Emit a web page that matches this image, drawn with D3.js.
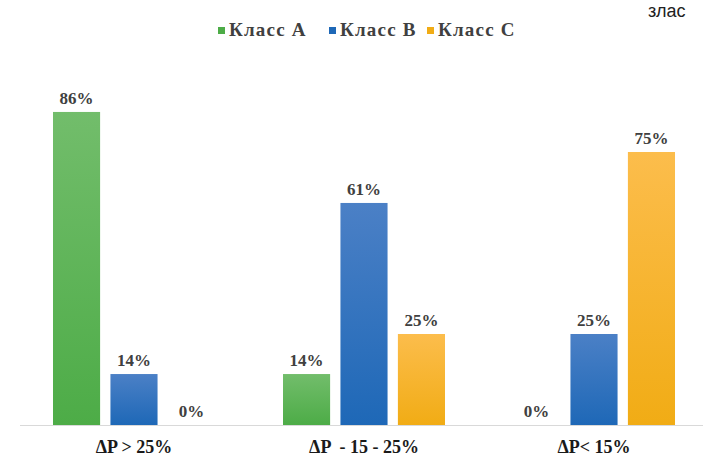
<!DOCTYPE html>
<html>
<head>
<meta charset="utf-8">
<script src="https://cdn.jsdelivr.net/npm/d3@7"></script>
<style>
  body { margin: 0; background: #fff; }
  svg { display: block; }
</style>
</head>
<body>
<div id="chart"></div>
<script>
// data
var categories = ["ΔP > 25%", "ΔP  - 15 - 25%", "ΔP< 15%"];
var seriesNames = ["Класс A", "Класс B", "Класс C"];
var classA = [86, 14, 0];
var classB = [14, 61, 25];
var classC = [0, 25, 75];

var W = 703, H = 457;
var base = 425;
var SERIF = "'Liberation Serif', 'Times New Roman', serif";

var svg = d3.select("#chart").append("svg")
  .attr("width", W).attr("height", H);

// gradients: lighter at the top, like the original
var colors = {
  "Класс A": ["#72bd6b", "#4dac47"],
  "Класс B": ["#4b80c6", "#1e68b7"],
  "Класс C": ["#fcbd4c", "#f1ac15"]
};
var defs = svg.append("defs");
seriesNames.forEach(function(s, i) {
  var g = defs.append("linearGradient").attr("id", "grad" + i)
    .attr("x1", 0).attr("y1", 0).attr("x2", 0).attr("y2", 1);
  g.append("stop").attr("offset", "0%").attr("stop-color", colors[s][0]);
  g.append("stop").attr("offset", "100%").attr("stop-color", colors[s][1]);
});

var x = d3.scaleBand()
  .domain(categories)
  .range([19, 709])
  .paddingInner(0.2957)
  .paddingOuter(0.1478);

var xs = d3.scaleBand()
  .domain(seriesNames)
  .range([0, x.bandwidth()])
  .paddingInner(0.18);

var y = d3.scaleLinear()
  .domain([0, 100])
  .range([base, base - 364]);

var rows = categories.map(function(c, i) {
  return { cat: c, values: [classA[i], classB[i], classC[i]] };
});

// axis line
svg.append("line")
  .attr("x1", 20).attr("x2", W)
  .attr("y1", base + 0.5).attr("y2", base + 0.5)
  .attr("stroke", "#d9d9d9").attr("stroke-width", 1);

var groups = svg.selectAll("g.grp")
  .data(rows)
  .enter().append("g")
  .attr("class", "grp")
  .attr("transform", function(d) { return "translate(" + x(d.cat) + ",0)"; });

groups.selectAll("rect")
  .data(function(d) { return d.values.map(function(v, i) { return { s: seriesNames[i], i: i, v: v }; }); })
  .enter().append("rect")
  .attr("x", function(d) { return xs(d.s); })
  .attr("y", function(d) { return y(d.v); })
  .attr("width", xs.bandwidth())
  .attr("height", function(d) { return base - y(d.v); })
  .attr("fill", function(d) { return "url(#grad" + d.i + ")"; });

groups.selectAll("text.val")
  .data(function(d) { return d.values.map(function(v, i) { return { s: seriesNames[i], v: v }; }); })
  .enter().append("text")
  .attr("class", "val")
  .attr("x", function(d) { return xs(d.s) + xs.bandwidth() / 2; })
  .attr("y", function(d) { return y(d.v) - 8; })
  .attr("text-anchor", "middle")
  .style("font-family", SERIF)
  .style("font-weight", "bold")
  .style("font-size", "17px")
  .attr("fill", "#404040")
  .text(function(d) { return d.v + "%"; });

// category labels
svg.selectAll("text.cat")
  .data(categories)
  .enter().append("text")
  .attr("class", "cat")
  .attr("x", function(d) { return x(d) + x.bandwidth() / 2; })
  .attr("y", 453)
  .attr("text-anchor", "middle")
  .style("font-family", SERIF)
  .style("font-weight", "bold")
  .style("font-size", "18px")
  .style("white-space", "pre")
  .attr("fill", "#1a1a1a")
  .text(function(d) { return d; });

// legend
var legX = [218, 329, 427];
var leg = svg.selectAll("g.leg")
  .data(seriesNames)
  .enter().append("g")
  .attr("class", "leg")
  .attr("transform", function(d, i) { return "translate(" + legX[i] + ",26)"; });
leg.append("rect")
  .attr("y", 1)
  .attr("width", 7).attr("height", 7)
  .attr("fill", function(d) { return colors[d][1]; });
leg.append("text")
  .attr("x", 11).attr("y", 10)
  .style("font-family", SERIF)
  .style("font-weight", "bold")
  .style("font-size", "19px")
  .style("letter-spacing", "1.2px")
  .attr("fill", "#404040")
  .text(function(d) { return d; });

// stray text cut off at top right
svg.append("text")
  .attr("x", 648).attr("y", 17)
  .style("font-family", "'Liberation Sans', Arial, sans-serif")
  .style("font-size", "18px")
  .attr("fill", "#222")
  .text("злас");
</script>
</body>
</html>
